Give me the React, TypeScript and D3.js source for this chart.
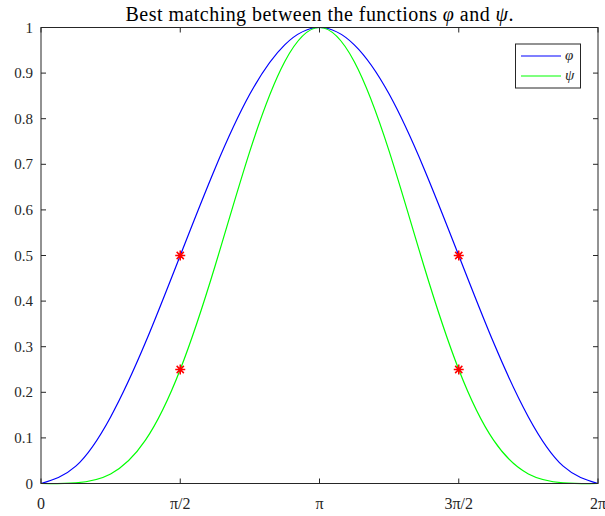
import React from 'react';
import * as d3 from 'd3';

// samples every pi/8
const xSteps = [0, 1, 2, 3, 4, 5, 6, 7, 8, 9, 10, 11, 12, 13, 14, 15, 16];
const phiValues = [0, 0.038, 0.146, 0.309, 0.5, 0.691, 0.854, 0.962, 1, 0.962, 0.854, 0.691, 0.5, 0.309, 0.146, 0.038, 0];
const psiValues = [0, 0.0015, 0.021, 0.095, 0.25, 0.477, 0.729, 0.925, 1, 0.925, 0.729, 0.477, 0.25, 0.095, 0.021, 0.0015, 0];
const markerX = [4, 4, 12, 12];
const markerY = [0.5, 0.25, 0.5, 0.25];
const xTickSteps = [0, 4, 8, 12, 16];
const xTickLabels = ['0', 'π/2', 'π', '3π/2', '2π'];
const yTicks = [0, 0.1, 0.2, 0.3, 0.4, 0.5, 0.6, 0.7, 0.8, 0.9, 1];

const W = 605, H = 516;
const m = { left: 41, right: 598, top: 27.5, bottom: 483.5 };
const font = '"Liberation Serif", "DejaVu Serif", serif';
const axisColor = '#262626';

const App = () => {
  const x = d3.scaleLinear().domain([0, 16]).range([m.left, m.right]);
  const y = d3.scaleLinear().domain([0, 1]).range([m.bottom, m.top]);

  const line = d3
    .line<number>()
    .x((d, i) => x(xSteps[i]))
    .y(d => y(d))
    .curve(d3.curveNatural);

  const star = (cx, cy, r) => {
    const d = r * 0.72;
    return `M${cx - r},${cy}L${cx + r},${cy}M${cx},${cy - r}L${cx},${cy + r}` +
      `M${cx - d},${cy - d}L${cx + d},${cy + d}M${cx - d},${cy + d}L${cx + d},${cy - d}`;
  };

  const tick = 5;

  return (
    <svg width={W} height={H} style={{ position: 'absolute', left: 0, top: 0, background: '#fff' }}>
      <rect x={0} y={0} width={W} height={H} fill="#fff" />
      <text x={(m.left + m.right) / 2} y={21} textAnchor="middle" fontFamily={font} fontSize={20}
        textLength={388} lengthAdjust="spacing" fill="#000">
        Best matching between the functions <tspan fontStyle="italic">φ</tspan> and <tspan fontStyle="italic">ψ</tspan>.
      </text>

      <path d={line(phiValues)} fill="none" stroke="#0000ff" strokeWidth={1.2} />
      <path d={line(psiValues)} fill="none" stroke="#00ff00" strokeWidth={1.2} />

      {markerX.map((mx, i) => (
        <path key={i} d={star(x(mx), y(markerY[i]), 5)} stroke="#ff0000" strokeWidth={1.5} fill="none" />
      ))}

      <rect x={m.left} y={m.top} width={m.right - m.left} height={m.bottom - m.top} fill="none" stroke={axisColor} strokeWidth={1} />

      {xTickSteps.map((t, i) => (
        <g key={'x' + i}>
          <line x1={x(t)} x2={x(t)} y1={m.bottom} y2={m.bottom - tick} stroke={axisColor} />
          <line x1={x(t)} x2={x(t)} y1={m.top} y2={m.top + tick} stroke={axisColor} />
          <text x={x(t)} y={m.bottom + 25} textAnchor="middle" fontFamily={font} fontSize={16} fill={axisColor}>
            {xTickLabels[i]}
          </text>
        </g>
      ))}

      {yTicks.map((t, i) => (
        <g key={'y' + i}>
          <line x1={m.left} x2={m.left + tick} y1={y(t)} y2={y(t)} stroke={axisColor} />
          <line x1={m.right} x2={m.right - tick} y1={y(t)} y2={y(t)} stroke={axisColor} />
          <text x={m.left - 8} y={y(t) + 5} textAnchor="end" fontFamily={font} fontSize={15} fill={axisColor}>
            {t}
          </text>
        </g>
      ))}

      <g>
        <rect x={515.5} y={44} width={65} height={44} fill="#fff" stroke={axisColor} strokeWidth={1} />
        <line x1={521} x2={561} y1={56} y2={56} stroke="#0000ff" strokeWidth={1.2} />
        <line x1={521} x2={561} y1={76} y2={76} stroke="#00ff00" strokeWidth={1.2} />
        <text x={565} y={60} fontFamily={font} fontStyle="italic" fontSize={15} fill={axisColor}>φ</text>
        <text x={565} y={80} fontFamily={font} fontStyle="italic" fontSize={15} fill={axisColor}>ψ</text>
      </g>
    </svg>
  );
};

export default App;
